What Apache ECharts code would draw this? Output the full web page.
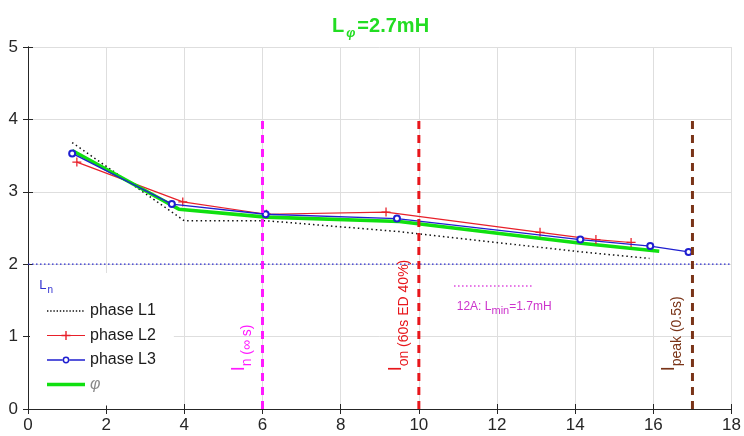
<!DOCTYPE html>
<html><head><meta charset="utf-8">
<script src="https://cdn.jsdelivr.net/npm/echarts@6/dist/echarts.min.js"></script>
<style>html,body{margin:0;padding:0;background:#fff}#c{width:744px;height:436px}</style>
</head><body><div id="c"></div>
<script>
// ---- data ----
const xMin = 0, xMax = 18, xStep = 2;
const yMin = 0, yMax = 5, yStep = 1;
const l1X = [1.13, 4.0, 6.1, 9.5, 14.15, 15.9];
const l1Y = [3.68, 2.6, 2.6, 2.45, 2.17, 2.08];
const l2X = [1.25, 3.96, 6.1, 9.16, 13.1, 14.53, 15.43];
const l2Y = [3.41, 2.86, 2.69, 2.72, 2.44, 2.34, 2.30];
const l3X = [1.13, 3.68, 6.08, 9.44, 14.13, 15.92, 16.9];
const l3Y = [3.53, 2.83, 2.69, 2.63, 2.34, 2.25, 2.17];
const phiX = [1.13, 3.86, 6.1, 9.5, 14.15, 16.15];
const phiY = [3.57, 2.76, 2.65, 2.59, 2.29, 2.18];
const lnValue = 2;
const markerX = [6, 10, 17];
const markerTop = 4;
const markerLabelsMain = ['I', 'I', 'I'];
const markerLabelsSub = ['n (∞ s)', 'on (60s ED 40%)', 'peak (0.5s)'];
const lminX = [10.9, 12.9];
const lminValue = 1.7;
const seriesNames = ['phase L1', 'phase L2', 'phase L3', 'φ'];

const FONT = 'Liberation Sans, Arial, sans-serif';
const markerColors = ['#ff1aff', '#e8161b', '#7a3418'];
const zip = (xs, ys) => xs.map((x, i) => [x, ys[i]]);

// legend icons drawn in a 38x14 box (corner anchors keep the box from being rescaled)
const ANCH = 'M0,0h0.01v0.01h-0.01z M37.99,13.99h0.01v0.01h-0.01z ';
let dots = '';
for (let x = 0; x < 38; x += 3.2) dots += 'M' + x.toFixed(2) + ',6.3h1.4v1.4h-1.4z ';
const iconL1 = 'path://' + ANCH + dots;
const iconL2 = 'path://' + ANCH + 'M0,6.4h38v1.2h-38z M18.3,2.5h1.4v9h-1.4z M14.5,6.3h9v1.4h-9z';
const iconL3 = 'path://' + ANCH + 'M0,6.35h15.8v1.3h-15.8z M22.2,6.35h15.8v1.3h-15.8z ' +
  'M15.6,7a3.4,3.4 0 1,0 6.8,0a3.4,3.4 0 1,0 -6.8,0z M17.1,7a1.9,1.9 0 1,1 3.8,0a1.9,1.9 0 1,1 -3.8,0z';
const iconPhi = 'path://' + ANCH + 'M0,5.2h38v3.6h-38z';

const chart = echarts.init(document.getElementById('c'), null, {renderer: 'canvas'});

const baseX = {type: 'value', min: xMin, max: xMax, interval: xStep};
const baseY = {type: 'value', min: yMin, max: yMax, interval: yStep};

const option = {
  animation: false,
  backgroundColor: '#fff',
  title: {
    text: '{a|L}{b|φ}{a|=2.7mH}',
    left: 327, top: 11,
    textStyle: {
      rich: {
        a: {fontSize: 20, fontWeight: 'bold', color: '#22dd22', fontFamily: FONT, lineHeight: 19, verticalAlign: 'top'},
        b: {fontSize: 13, fontStyle: 'italic', color: '#22dd22', fontFamily: FONT, lineHeight: 13, padding: [11, 2, 0, 2], verticalAlign: 'top'}
      }
    }
  },
  grid: {left: 28, right: 11, top: 47, bottom: 27, show: false},
  xAxis: [
    Object.assign({}, baseX, {
      position: 'bottom',
      axisLine: {show: true, lineStyle: {color: '#262626', width: 1}},
      axisTick: {show: true, inside: true, length: 5, lineStyle: {color: '#262626'}},
      axisLabel: {color: '#262626', fontSize: 17, fontFamily: FONT, margin: 8},
      splitLine: {show: true, lineStyle: {color: '#dedede', width: 1}}
    }),
    Object.assign({}, baseX, {
      position: 'top',
      axisLine: {show: true, lineStyle: {color: '#262626', width: 1}},
      axisTick: {show: true, inside: true, length: 5, lineStyle: {color: '#262626'}},
      axisLabel: {show: false}, splitLine: {show: false}
    })
  ],
  yAxis: [
    Object.assign({}, baseY, {
      position: 'left',
      axisLine: {show: true, lineStyle: {color: '#262626', width: 1}},
      axisTick: {show: true, inside: true, length: 5, lineStyle: {color: '#262626'}},
      axisLabel: {color: '#262626', fontSize: 17, fontFamily: FONT, margin: 10},
      splitLine: {show: true, lineStyle: {color: '#dedede', width: 1}}
    }),
    Object.assign({}, baseY, {
      position: 'right',
      axisLine: {show: true, lineStyle: {color: '#262626', width: 1}},
      axisTick: {show: true, inside: true, length: 5, lineStyle: {color: '#262626'}},
      axisLabel: {show: false}, splitLine: {show: false}
    })
  ],
  legend: {
    orient: 'vertical', left: 30, top: 273,
    padding: [29, 18, 12, 17],
    backgroundColor: '#fff',
    itemWidth: 38, itemHeight: 14, itemGap: 6.5,
    textStyle: {fontSize: 16, lineHeight: 18, color: '#1a1a1a', fontFamily: FONT},
    data: [
      {name: seriesNames[0], icon: iconL1},
      {name: seriesNames[1], icon: iconL2},
      {name: seriesNames[2], icon: iconL3},
      {name: seriesNames[3], icon: iconPhi, textStyle: {fontStyle: 'italic', color: '#888'}}
    ],
    z: 4
  },
  series: [
    {name: 'Ln', type: 'line', data: [[xMin, lnValue], [xMax, lnValue]], symbol: 'none', silent: true,
     lineStyle: {color: '#2a2ad0', width: 1.3, type: [1.5, 2.5]}, z: 5},
    {name: seriesNames[0], type: 'line', data: zip(l1X, l1Y), symbol: 'none',
     lineStyle: {color: '#111', width: 1.5, type: [1.5, 3]}, itemStyle: {color: '#111'}, z: 2},
    {name: seriesNames[1], type: 'line', data: zip(l2X, l2Y),
     symbol: 'path://M4.3,0H5.7V4.3H10V5.7H5.7V10H4.3V5.7H0V4.3H4.3Z', symbolSize: 9,
     lineStyle: {color: '#e8202a', width: 1.2}, itemStyle: {color: '#e8202a'}, z: 3},
    {name: seriesNames[2], type: 'line', data: zip(l3X, l3Y),
     symbol: 'emptyCircle', symbolSize: 6,
     lineStyle: {color: '#1f1fd0', width: 1.3}, itemStyle: {color: '#1f1fd0', borderWidth: 1.5}, z: 4},
    {name: seriesNames[3], type: 'line', data: zip(phiX, phiY), symbol: 'none',
     lineStyle: {color: '#10e010', width: 3.6}, itemStyle: {color: '#10e010'}, z: 3},
    ...markerX.map((xv, i) => ({
      name: 'marker' + i, type: 'line', data: [[xv, yMin], [xv, markerTop]], symbol: 'none', silent: true,
      lineStyle: {color: markerColors[i], width: 3, type: [8, 6]}, z: 6
    })),
    {name: 'lmin', type: 'line', data: [[lminX[0], lminValue], [lminX[1], lminValue]], symbol: 'none', silent: true,
     lineStyle: {color: '#dd44dd', width: 1.5, type: [1.5, 2.5]}, z: 5}
  ]
};
chart.setOption(option);

const px = (x, y) => chart.convertToPixel({gridIndex: 0}, [x, y]);
const graphics = [];
markerX.forEach((xv, i) => {
  const p = px(xv, 0.52);
  const c = markerColors[i];
  graphics.push({
    type: 'text', x: p[0] - 14, y: p[1], rotation: Math.PI / 2, z: 100,
    style: {
      text: '{i|' + markerLabelsMain[i] + '}{s|' + markerLabelsSub[i] + '}',
      align: 'left', verticalAlign: 'bottom',
      rich: {
        i: {fontSize: 18, lineHeight: 18, fill: c, color: c, fontFamily: FONT, verticalAlign: 'top'},
        s: {fontSize: 14, lineHeight: 14, fill: c, color: c, fontFamily: FONT, padding: [10, 0, 0, 0], verticalAlign: 'top'}
      }
    }
  });
});
const pl = px(10.97, 1.5);
graphics.push({
  type: 'text', x: pl[0], y: pl[1], z: 100,
  style: {
    text: '{a|12A: L}{s|min}{a|=1.7mH}', align: 'left', verticalAlign: 'top',
    rich: {
      a: {fontSize: 12, lineHeight: 12, fill: '#cc33cc', color: '#cc33cc', fontFamily: FONT, verticalAlign: 'top'},
      s: {fontSize: 11, lineHeight: 11, fill: '#cc33cc', color: '#cc33cc', fontFamily: FONT, padding: [5, 0, 0, 0], verticalAlign: 'top'}
    }
  }
});
const pn = px(0.29, 1.79);
graphics.push({
  type: 'text', x: pn[0], y: pn[1], z: 100,
  style: {
    text: '{a|L}{s|n}', align: 'left', verticalAlign: 'top',
    rich: {
      a: {fontSize: 13, lineHeight: 13, fill: '#3030d0', color: '#3030d0', fontFamily: FONT, verticalAlign: 'top'},
      s: {fontSize: 10, lineHeight: 10, fill: '#3030d0', color: '#3030d0', fontFamily: FONT, padding: [6, 0, 0, 1], verticalAlign: 'top'}
    }
  }
});
chart.setOption({graphic: {elements: graphics}});
</script>
</body></html>
